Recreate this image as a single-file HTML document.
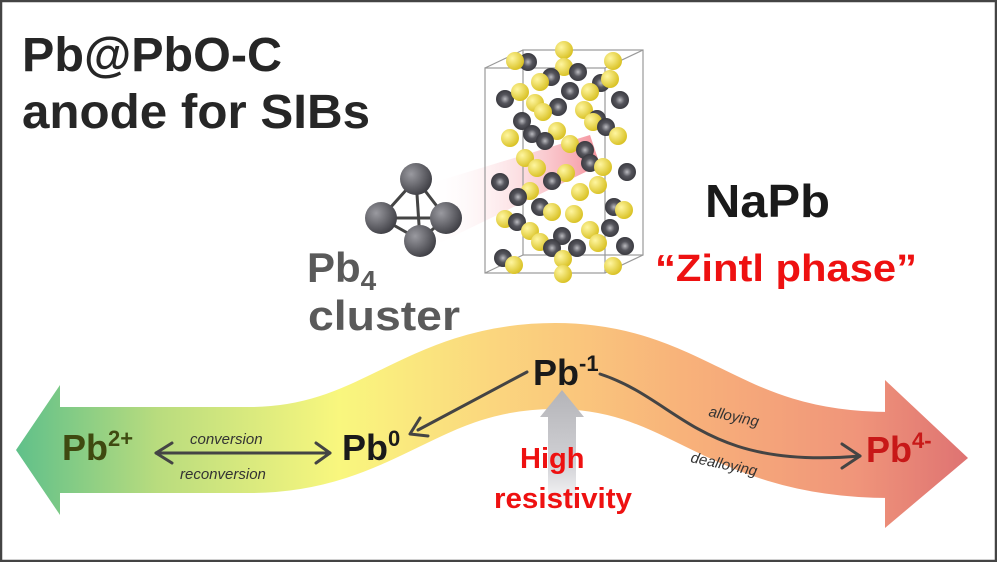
<!DOCTYPE html>
<html><head><meta charset="utf-8"><style>
html,body{margin:0;padding:0;background:#fff}
svg{display:block}
text{font-family:"Liberation Sans",Arial,sans-serif;font-weight:bold}
</style></head><body>
<svg width="997" height="562" viewBox="0 0 997 562" xmlns="http://www.w3.org/2000/svg">
<defs>
<linearGradient id="band" gradientUnits="userSpaceOnUse" x1="15" y1="0" x2="970" y2="0">
<stop offset="0" stop-color="#5fc08a"/>
<stop offset="0.15" stop-color="#b9dc7e"/>
<stop offset="0.34" stop-color="#f9f77e"/>
<stop offset="0.5" stop-color="#fbd67e"/>
<stop offset="0.7" stop-color="#f8b27a"/>
<stop offset="0.88" stop-color="#f0957a"/>
<stop offset="1" stop-color="#de7272"/>
</linearGradient>
<linearGradient id="gray" x1="0" y1="0" x2="0" y2="1">
<stop offset="0" stop-color="#b4b4b8"/>
<stop offset="0.6" stop-color="#d0d0d4"/>
<stop offset="1" stop-color="#ffffff"/>
</linearGradient>
<linearGradient id="beam" x1="0" y1="0" x2="1" y2="0">
<stop offset="0" stop-color="#ffffff" stop-opacity="0"/>
<stop offset="1" stop-color="#f06070" stop-opacity="0.7"/>
</linearGradient>
<radialGradient id="pb" cx="0.35" cy="0.35" r="0.7">
<stop offset="0" stop-color="#9a9aa0"/><stop offset="1" stop-color="#3e3e44"/>
</radialGradient>
<radialGradient id="na" cx="0.35" cy="0.35" r="0.7">
<stop offset="0" stop-color="#fff6a0"/><stop offset="1" stop-color="#d8c020"/>
</radialGradient>
<radialGradient id="pbs" cx="0.5" cy="0.5" r="0.5">
<stop offset="0" stop-color="#bbbbc0"/><stop offset="0.5" stop-color="#55555c"/><stop offset="1" stop-color="#3a3a40"/>
</radialGradient>
</defs>
<rect x="1" y="1" width="995" height="560" fill="#fff" stroke="#444" stroke-width="2.5"/>

<path d="M55,450 L250,450 C380,450 420,366 555,366 C690,366 720,455 890,455" fill="none" stroke="url(#band)" stroke-width="86"/>
<polygon points="60,385 60,515 16,450" fill="url(#band)"/>
<polygon points="885,380 885,528 968,458" fill="url(#band)"/>

<polygon points="548,417 540,417 562,390 584,417 576,417 576,510 548,510" fill="url(#gray)"/>

<polygon points="425,185 425,250 600,165 590,135" fill="url(#beam)"/>

<g fill="none" stroke="#999" stroke-width="1.2">
<rect x="485" y="68" width="120" height="205"/>
<rect x="523" y="50" width="120" height="205"/>
<line x1="485" y1="68" x2="523" y2="50"/><line x1="605" y1="68" x2="643" y2="50"/>
<line x1="485" y1="273" x2="523" y2="255"/><line x1="605" y1="273" x2="643" y2="255"/>
</g>
<g>
<circle cx="528" cy="62" r="9" fill="url(#pbs)"/><circle cx="515" cy="61" r="9" fill="url(#na)"/>
<circle cx="564" cy="50" r="9" fill="url(#na)"/><circle cx="564" cy="67" r="9" fill="url(#na)"/>
<circle cx="578" cy="72" r="9" fill="url(#pbs)"/><circle cx="613" cy="61" r="9" fill="url(#na)"/>
<circle cx="551" cy="77" r="9" fill="url(#pbs)"/><circle cx="540" cy="82" r="9" fill="url(#na)"/>
<circle cx="601" cy="83" r="9" fill="url(#pbs)"/><circle cx="610" cy="79" r="9" fill="url(#na)"/>
<circle cx="590" cy="92" r="9" fill="url(#na)"/><circle cx="570" cy="91" r="9" fill="url(#pbs)"/>
<circle cx="505" cy="99" r="9" fill="url(#pbs)"/><circle cx="520" cy="92" r="9" fill="url(#na)"/>
<circle cx="535" cy="103" r="9" fill="url(#na)"/><circle cx="558" cy="107" r="9" fill="url(#pbs)"/>
<circle cx="543" cy="112" r="9" fill="url(#na)"/><circle cx="584" cy="110" r="9" fill="url(#na)"/>
<circle cx="620" cy="100" r="9" fill="url(#pbs)"/><circle cx="597" cy="119" r="9" fill="url(#pbs)"/>
<circle cx="593" cy="122" r="9" fill="url(#na)"/><circle cx="606" cy="127" r="9" fill="url(#pbs)"/>
<circle cx="618" cy="136" r="9" fill="url(#na)"/><circle cx="522" cy="121" r="9" fill="url(#pbs)"/>
<circle cx="532" cy="134" r="9" fill="url(#pbs)"/><circle cx="510" cy="138" r="9" fill="url(#na)"/>
<circle cx="557" cy="131" r="9" fill="url(#na)"/><circle cx="545" cy="141" r="9" fill="url(#pbs)"/>
<circle cx="570" cy="144" r="9" fill="url(#na)"/><circle cx="585" cy="150" r="9" fill="url(#pbs)"/>
<circle cx="525" cy="158" r="9" fill="url(#na)"/><circle cx="537" cy="168" r="9" fill="url(#na)"/>
<circle cx="590" cy="163" r="9" fill="url(#pbs)"/><circle cx="603" cy="167" r="9" fill="url(#na)"/>
<circle cx="627" cy="172" r="9" fill="url(#pbs)"/><circle cx="500" cy="182" r="9" fill="url(#pbs)"/>
<circle cx="566" cy="173" r="9" fill="url(#na)"/><circle cx="552" cy="181" r="9" fill="url(#pbs)"/>
<circle cx="530" cy="191" r="9" fill="url(#na)"/><circle cx="518" cy="197" r="9" fill="url(#pbs)"/>
<circle cx="580" cy="192" r="9" fill="url(#na)"/><circle cx="598" cy="185" r="9" fill="url(#na)"/>
<circle cx="614" cy="207" r="9" fill="url(#pbs)"/><circle cx="624" cy="210" r="9" fill="url(#na)"/>
<circle cx="540" cy="207" r="9" fill="url(#pbs)"/><circle cx="552" cy="212" r="9" fill="url(#na)"/>
<circle cx="574" cy="214" r="9" fill="url(#na)"/><circle cx="505" cy="219" r="9" fill="url(#na)"/>
<circle cx="517" cy="222" r="9" fill="url(#pbs)"/><circle cx="530" cy="231" r="9" fill="url(#na)"/>
<circle cx="562" cy="236" r="9" fill="url(#pbs)"/><circle cx="590" cy="230" r="9" fill="url(#na)"/>
<circle cx="598" cy="243" r="9" fill="url(#na)"/><circle cx="610" cy="228" r="9" fill="url(#pbs)"/>
<circle cx="625" cy="246" r="9" fill="url(#pbs)"/><circle cx="540" cy="242" r="9" fill="url(#na)"/>
<circle cx="552" cy="248" r="9" fill="url(#pbs)"/><circle cx="577" cy="248" r="9" fill="url(#pbs)"/>
<circle cx="503" cy="258" r="9" fill="url(#pbs)"/><circle cx="514" cy="265" r="9" fill="url(#na)"/>
<circle cx="563" cy="259" r="9" fill="url(#na)"/><circle cx="563" cy="274" r="9" fill="url(#na)"/>
<circle cx="613" cy="266" r="9" fill="url(#na)"/>
</g>

<g stroke="#444" stroke-width="3">
<line x1="416" y1="179" x2="381" y2="218"/><line x1="416" y1="179" x2="446" y2="218"/>
<line x1="416" y1="179" x2="420" y2="240"/><line x1="381" y1="218" x2="446" y2="218"/>
<line x1="381" y1="218" x2="420" y2="240"/><line x1="446" y1="218" x2="420" y2="240"/>
</g>
<circle cx="416" cy="179" r="16" fill="url(#pb)"/>
<circle cx="381" cy="218" r="16" fill="url(#pb)"/>
<circle cx="446" cy="218" r="16" fill="url(#pb)"/>
<circle cx="420" cy="241" r="16" fill="url(#pb)"/>

<text x="22" y="71" font-size="48" fill="#262626" textLength="260" lengthAdjust="spacingAndGlyphs">Pb@PbO-C</text>
<text x="22" y="128" font-size="48" fill="#262626" textLength="348" lengthAdjust="spacingAndGlyphs">anode for SIBs</text>
<text x="307" y="282" font-size="42" fill="#5a5a5a">Pb<tspan font-size="28" dy="8">4</tspan></text>
<text x="308" y="330" font-size="42" fill="#5a5a5a" textLength="152" lengthAdjust="spacingAndGlyphs">cluster</text>
<text x="705" y="217" font-size="46" fill="#1a1a1a" textLength="125" lengthAdjust="spacingAndGlyphs">NaPb</text>
<text x="655" y="281" font-size="38" fill="#ee1111" textLength="262" lengthAdjust="spacingAndGlyphs">“Zintl phase”</text>

<text x="62" y="460" font-size="36" fill="#3f4a10">Pb<tspan font-size="22" dy="-14">2+</tspan></text>
<text x="342" y="460" font-size="36" fill="#1a1a1a">Pb<tspan font-size="22" dy="-14">0</tspan></text>
<text x="533" y="385" font-size="36" fill="#1a1a1a">Pb<tspan font-size="22" dy="-14">-1</tspan></text>
<text x="866" y="462" font-size="36" fill="#c81818">Pb<tspan font-size="22" dy="-14">4-</tspan></text>
<text x="520" y="468" font-size="29" fill="#ee1111">High</text>
<text x="494" y="508" font-size="29" fill="#ee1111" textLength="138" lengthAdjust="spacingAndGlyphs">resistivity</text>

<g fill="none" stroke="#444" stroke-width="3" stroke-linecap="round" stroke-linejoin="round">
<line x1="156" y1="453" x2="330" y2="453"/>
<polyline points="172,443 156,453 172,463"/>
<polyline points="316,443 330,453 316,463"/>
<path d="M527,372 L418,430"/>
<polyline points="420,418 410,434 428,436"/>
<path d="M600,374 C680,400 700,470 860,456"/>
<polyline points="842,444 860,456 842,468"/>
</g>
<g font-style="italic" fill="#333">
<text x="190" y="444" font-size="15" style="font-weight:normal">conversion</text>
<text x="180" y="479" font-size="15" style="font-weight:normal">reconversion</text>
<text x="708" y="416" font-size="15" style="font-weight:normal" transform="rotate(12 708 416)">alloying</text>
<text x="690" y="462" font-size="15" style="font-weight:normal" transform="rotate(12 690 462)">dealloying</text>
</g>
</svg>
</body></html>
